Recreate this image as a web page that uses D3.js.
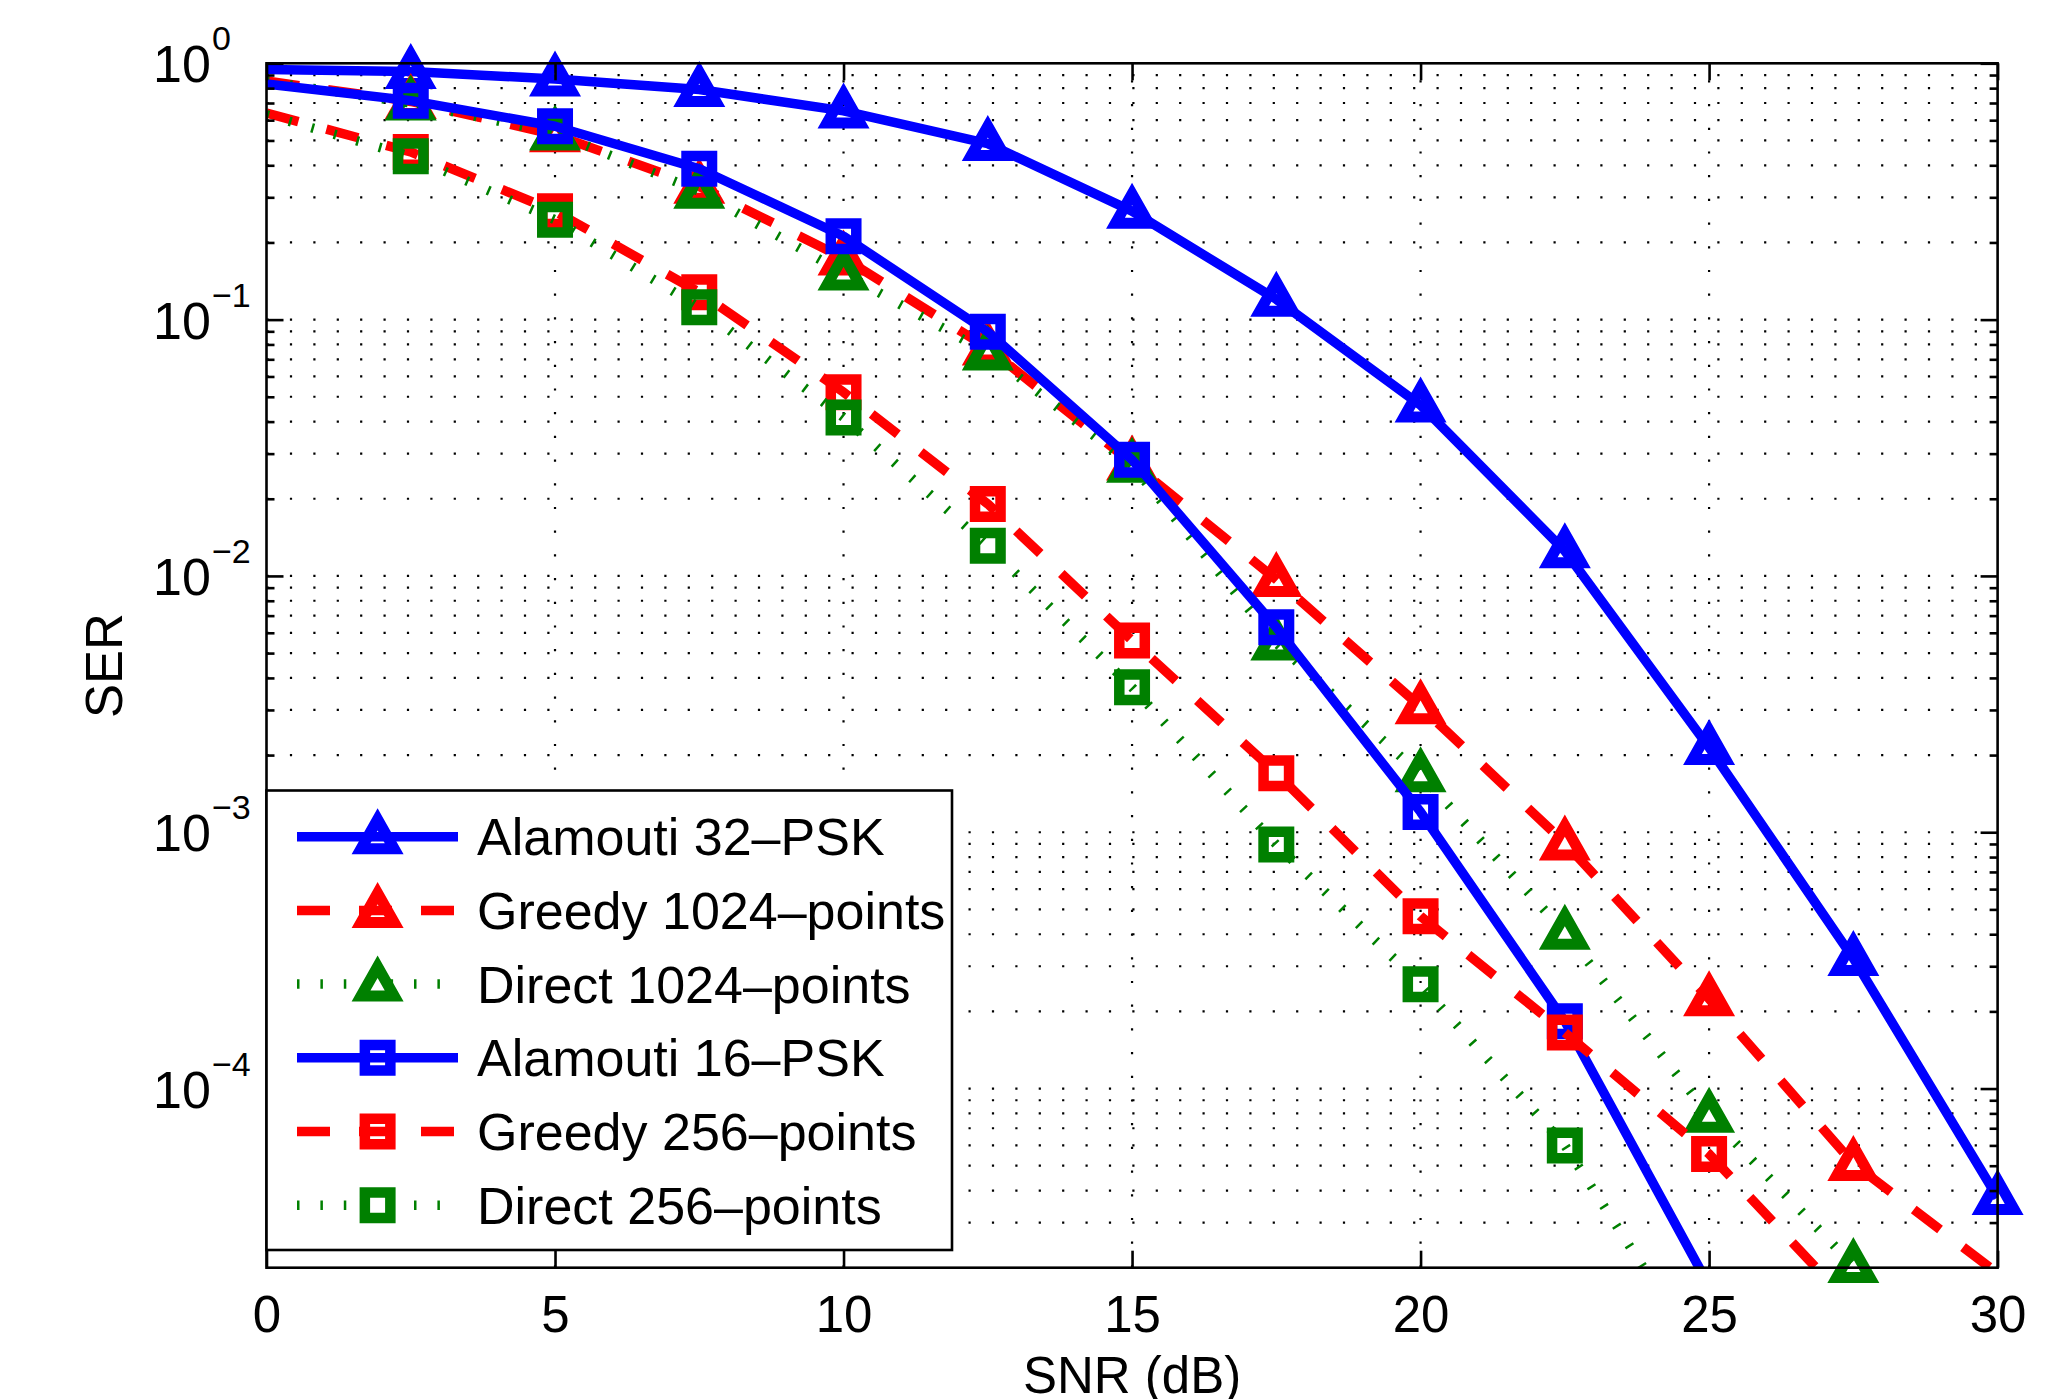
<!DOCTYPE html>
<html><head><meta charset="utf-8">
<script src="https://cdn.jsdelivr.net/npm/d3@7"></script>
<style>
body{margin:0;background:#fff}
text{font-family:"Liberation Sans",Arial,Helvetica,sans-serif;fill:#000}
</style>
</head><body>
<svg id="chart" width="2059" height="1399"></svg>
<script>
// ---------------- data ----------------
const snr = [0, 2.5, 5, 7.5, 10, 12.5, 15, 17.5, 20, 22.5, 25, 27.5, 30];
const alamouti32 = [0.946, 0.929, 0.868, 0.79, 0.652, 0.486, 0.265, 0.120, 0.0464, 0.01253, 0.00214, 3.22e-4, 3.76e-5];
const greedy1024 = [0.853, 0.71, 0.526, 0.331, 0.174, 0.0775, 0.0276, 0.00968, 0.00309, 9.08e-4, 2.24e-4, 5.1e-5, 1.9e-5];
const direct1024 = [0.85, 0.70, 0.535, 0.3166, 0.152, 0.0741, 0.027, 0.00547, 0.001676, 4.07e-4, 7.86e-5, 2.04e-5];
const alamouti16 = [0.83, 0.715, 0.568, 0.388, 0.2115, 0.0896, 0.0284, 0.0063, 0.0012, 1.83e-4, 1.7e-5];
const greedy256  = [0.64, 0.451, 0.2646, 0.1278, 0.0521, 0.0191, 0.0056, 0.0017, 4.7e-4, 1.654e-4, 5.56e-5, 1.4e-5];
const direct256  = [0.63, 0.4336, 0.2453, 0.1117, 0.0415, 0.0131, 0.003675, 8.95e-4, 2.55e-4, 6.0e-5, 8e-6];
const seriesNames = ["Alamouti 32\u2013PSK", "Greedy 1024\u2013points", "Direct 1024\u2013points",
                     "Alamouti 16\u2013PSK", "Greedy 256\u2013points", "Direct 256\u2013points"];
const xTicks = [0, 5, 10, 15, 20, 25, 30];
const yTickExponents = [0, -1, -2, -3, -4];
const xDomain = [0, 30];
const yDomain = [2e-5, 1];
const xLabel = "SNR (dB)";
const yLabel = "SER";

// ---------------- styles ----------------
const seriesValues = [alamouti32, greedy1024, direct1024, alamouti16, greedy256, direct256];
const seriesColor  = ["#0000ff", "#ff0000", "#008000", "#0000ff", "#ff0000", "#008000"];
const seriesDash   = ["none", "33,29", "2.5,20.9", "none", "33,29", "2.5,20.9"];
const seriesMarker = ["tri", "tri", "tri", "sq", "sq", "sq"];

const L = 266.5, R = 1997.6, T = 63.3, B = 1267.7;
const LW = 9.5;
const svg = d3.select("#chart");

const x = d3.scaleLinear().domain(xDomain).range([L, R]);
const y = d3.scaleLog().domain(yDomain).range([B, T]);

// marker shapes (evenodd ring paths)
function triPath() {
  const W = 52, H = 46, ay = -28.5, by = ay + H, t = 11;
  const leg = Math.hypot(W / 2, H);
  const area = 0.5 * W * H, s = (W + 2 * leg) / 2, r = area / s;
  const iy = by - r, k = (r - t) / r;
  const pts = [[0, ay], [-W / 2, by], [W / 2, by]];
  const inner = pts.map(p => [k * p[0], iy + k * (p[1] - iy)]);
  const f = a => "M" + a.map(p => p[0].toFixed(2) + "," + p[1].toFixed(2)).join("L") + "Z";
  return f(pts) + f(inner.slice().reverse());
}
function sqPath() {
  const o = 18, i = 7.5;
  return `M${-o},${-o}H${o}V${o}H${-o}Z M${-i},${-i}V${i}H${i}V${-i}Z`;
}
const markerPath = { tri: triPath(), sq: sqPath() };

// ---------------- grid ----------------
const grid = svg.append("g");
const yMinor = [];
for (let e = -5; e <= 0; e++) for (let m = 1; m <= 9; m++) {
  const v = m * Math.pow(10, e);
  if (v > yDomain[0] * 1.0001 && v < yDomain[1] * 0.9999) yMinor.push(v);
}
grid.selectAll("line.h").data(yMinor).enter().append("line")
  .attr("x1", L).attr("x2", R).attr("y1", d => y(d)).attr("y2", d => y(d))
  .attr("stroke", "#000").attr("stroke-width", 2.2).attr("stroke-dasharray", "2.2,21.2");
grid.selectAll("line.v").data(xTicks.filter(d => d > xDomain[0] && d < xDomain[1])).enter().append("line")
  .attr("x1", d => x(d)).attr("x2", d => x(d)).attr("y1", T).attr("y2", B)
  .attr("stroke", "#000").attr("stroke-width", 2.2).attr("stroke-dasharray", "2.2,21.5")
  .attr("stroke-dashoffset", -17);

// ---------------- series ----------------
svg.append("clipPath").attr("id", "plotclip").append("rect")
  .attr("x", L).attr("y", T).attr("width", R - L).attr("height", B - T);

const line = d3.line().x(d => x(d.s)).y(d => y(d.v));
seriesValues.forEach((vals, i) => {
  const pts = vals.map((v, j) => ({ s: snr[j], v }));
  const g = svg.append("g");
  g.append("path").datum(pts).attr("d", line)
    .attr("clip-path", "url(#plotclip)")
    .attr("fill", "none").attr("stroke", seriesColor[i]).attr("stroke-width", LW)
    .attr("stroke-dasharray", seriesDash[i] === "none" ? null : seriesDash[i])
    .attr("stroke-linejoin", "round");
  g.selectAll("path.m").data(pts.filter(d => d.s > xDomain[0] && d.v >= yDomain[0] && d.v <= yDomain[1]))
    .enter().append("path")
    .attr("d", markerPath[seriesMarker[i]]).attr("fill-rule", "evenodd")
    .attr("fill", seriesColor[i])
    .attr("transform", d => `translate(${x(d.s)},${y(d.v)})`);
});

// ---------------- axes ----------------
const axW = 2.6;
function styleAxis(g) {
  g.select(".domain").remove();
  g.selectAll(".tick line").attr("stroke", "#000").attr("stroke-width", axW);
}
const yMajor = yTickExponents.map(e => Math.pow(10, e));
const yMinorTicks = yMinor.filter(v => !yMajor.some(m => Math.abs(m - v) / v < 1e-6));

svg.append("g").attr("transform", `translate(0,${B})`)
  .call(d3.axisBottom(x).tickValues(xTicks).tickSize(-17).tickPadding(28).tickFormat(d3.format("d")))
  .call(styleAxis)
  .call(g => g.selectAll("text").attr("font-size", 51).attr("font-family", "Liberation Sans, Arial, sans-serif"));
svg.append("g").attr("transform", `translate(0,${T})`)
  .call(d3.axisTop(x).tickValues(xTicks).tickSize(-17).tickFormat(""))
  .call(styleAxis);
svg.append("g").attr("transform", `translate(${L},0)`)
  .call(d3.axisLeft(y).tickValues(yMajor).tickSize(-17).tickFormat(""))
  .call(styleAxis);
svg.append("g").attr("transform", `translate(${L},0)`)
  .call(d3.axisLeft(y).tickValues(yMinorTicks).tickSize(-8).tickFormat(""))
  .call(styleAxis);
svg.append("g").attr("transform", `translate(${R},0)`)
  .call(d3.axisRight(y).tickValues(yMajor).tickSize(-17).tickFormat(""))
  .call(styleAxis);
svg.append("g").attr("transform", `translate(${R},0)`)
  .call(d3.axisRight(y).tickValues(yMinorTicks).tickSize(-8).tickFormat(""))
  .call(styleAxis);

svg.append("rect").attr("x", L).attr("y", T).attr("width", R - L).attr("height", B - T)
  .attr("fill", "none").attr("stroke", "#000").attr("stroke-width", axW);

// y tick labels 10^e
const yl = svg.append("g");
yTickExponents.forEach(e => {
  const ty = y(Math.pow(10, e));
  yl.append("text").attr("x", 153).attr("y", ty + 19).attr("font-size", 52).text("10");
  yl.append("text").attr("x", 212).attr("y", ty - 13).attr("font-size", 34)
    .text(e === 0 ? "0" : "\u2212" + Math.abs(e));
});

// axis labels
svg.append("text").attr("x", (L + R) / 2).attr("y", 1393).attr("text-anchor", "middle")
  .attr("font-size", 51).text(xLabel);
svg.append("text").attr("transform", `translate(122,${(T + B) / 2}) rotate(-90)`)
  .attr("text-anchor", "middle").attr("font-size", 51).text(yLabel);

// ---------------- legend ----------------
const lg = svg.append("g");
lg.append("rect").attr("x", L).attr("y", 790.5).attr("width", 952 - L).attr("height", 1250 - 790.5)
  .attr("fill", "#fff").attr("stroke", "#000").attr("stroke-width", axW);
const rowY0 = 836.7, rowStep = 73.7, lx0 = 297, lx1 = 458, lmx = 377.6;
seriesNames.forEach((name, i) => {
  const ry = rowY0 + i * rowStep;
  lg.append("line").attr("x1", lx0).attr("x2", lx1).attr("y1", ry).attr("y2", ry)
    .attr("stroke", seriesColor[i]).attr("stroke-width", LW)
    .attr("stroke-dasharray", seriesDash[i] === "none" ? null : seriesDash[i]);
  lg.append("path").attr("d", markerPath[seriesMarker[i]]).attr("fill-rule", "evenodd")
    .attr("fill", seriesColor[i]).attr("transform", `translate(${lmx},${ry})`);
  lg.append("text").attr("x", 477).attr("y", ry + 18.5).attr("font-size", 52).text(name);
});
</script>
</body></html>
